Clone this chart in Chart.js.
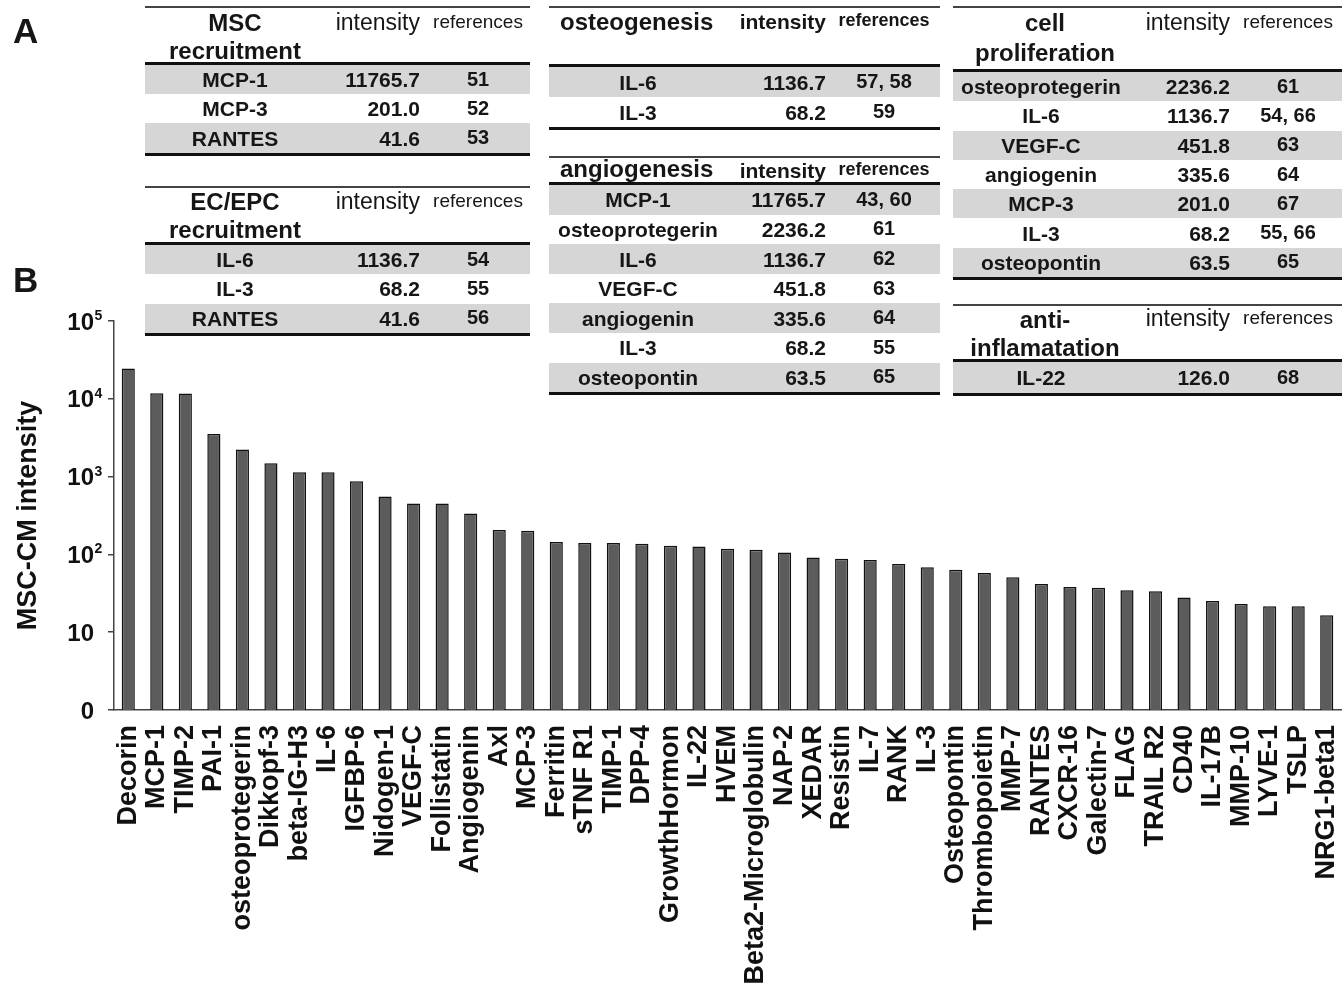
<!DOCTYPE html>
<html>
<head>
<meta charset="utf-8">
<script src="https://cdn.jsdelivr.net/npm/chart.js@4.4.1/dist/chart.umd.min.js"></script>
<style>
  body { margin: 0; background: #fff; font-family: "Liberation Sans", Arial, sans-serif; color: #161616; }
  #wrap { position: relative; width: 1342px; height: 990px; overflow: hidden; }
  #myChart { position: absolute; left: 0; top: 0; }
  .lbl { position: absolute; font-weight: bold; font-size: 35px; line-height: 35px; }
  .t { position: absolute; white-space: nowrap; }
  .bar { position: absolute; }
</style>
</head>
<body>
<div id="wrap">
  <canvas id="myChart" width="1342" height="990"></canvas>
  <div class="lbl" style="left:13px;top:13px">A</div>
  <div class="lbl" style="left:13px;top:262px">B</div>
</div>
<script>
// part B : 막대 그래프 값
const proteins = ['Decorin', 'MCP-1', 'TIMP-2', 'PAI-1', 'osteoprotegerin', 'Dikkopf-3', 'beta-IG-H3',
  'IL-6', 'IGFBP-6', 'Nidogen-1', 'VEGF-C', 'Follistatin', 'Angiogenin', 'Axl', 'MCP-3', 'Ferritin',
  'sTNF R1', 'TIMP-1', 'DPP-4', 'GrowthHormon', 'IL-22', 'HVEM', 'Beta2-Microglobulin', 'NAP-2',
  'XEDAR', 'Resistin', 'IL-7', 'RANK', 'IL-3', 'Osteopontin', 'Thrombopoietin', 'MMP-7', 'RANTES',
  'CXCR-16', 'Galectin-7', 'FLAG', 'TRAIL R2', 'CD40', 'IL-17B', 'MMP-10', 'LYVE-1', 'TSLP', 'NRG1-beta1'];
const intensities = [24500, 11765.7, 11700, 3530, 2236.2, 1480, 1140,
  1136.7, 870, 555, 451.8, 450, 335.6, 206, 201.0, 144,
  140, 140, 137, 129, 126.0, 118, 115, 106,
  91, 88, 85, 75, 68.2, 63.5, 57.6, 51, 41.6,
  38, 37.4, 34.5, 33.6, 28, 25.2, 23, 21.5, 21.5, 16.5];

// y축 눈금
const yTicks = [1, 10, 100, 1000, 10000, 100000];
const yTickBase = ['0', '10', '10', '10', '10', '10'];
const yTickExp = ['', '', '2', '3', '4', '5'];

// part A : 표
const mscRows = [['MCP-1', '11765.7', '51'], ['MCP-3', '201.0', '52'], ['RANTES', '41.6', '53']];
const ecRows = [['IL-6', '1136.7', '54'], ['IL-3', '68.2', '55'], ['RANTES', '41.6', '56']];
const osteoRows = [['IL-6', '1136.7', '57, 58'], ['IL-3', '68.2', '59']];
const angioRows = [['MCP-1', '11765.7', '43, 60'], ['osteoprotegerin', '2236.2', '61'], ['IL-6', '1136.7', '62'],
  ['VEGF-C', '451.8', '63'], ['angiogenin', '335.6', '64'], ['IL-3', '68.2', '55'], ['osteopontin', '63.5', '65']];
const prolifRows = [['osteoprotegerin', '2236.2', '61'], ['IL-6', '1136.7', '54, 66'], ['VEGF-C', '451.8', '63'],
  ['angiogenin', '335.6', '64'], ['MCP-3', '201.0', '67'], ['IL-3', '68.2', '55, 66'], ['osteopontin', '63.5', '65']];
const inflamRows = [['IL-22', '126.0', '68']];

const wrap = document.getElementById('wrap');

function addRect(x, y, w, h, color) {
  const d = document.createElement('div');
  d.className = 'bar';
  d.style.cssText = `left:${x}px;top:${y}px;width:${w}px;height:${h}px;background:${color}`;
  wrap.appendChild(d);
}

function addText(text, x, y, align, size, bold) {
  const d = document.createElement('div');
  d.className = 't';
  const lh = Math.round(size * 1.2);
  let left = x, extra = '';
  if (align === 'center') { left = x - 200; extra = 'width:400px;text-align:center;'; }
  if (align === 'right') { left = x - 400; extra = 'width:400px;text-align:right;'; }
  d.style.cssText = `left:${left}px;top:${y - lh / 2}px;font-size:${size}px;line-height:${lh}px;` +
    `font-weight:${bold ? 'bold' : 'normal'};${extra}`;
  d.textContent = text;
  wrap.appendChild(d);
}

function makeTable(t) {
  addRect(t.x, t.topLine, t.w, 2, '#444');
  t.title.forEach((s, i) => addText(s, t.titleX, t.titleYs[i], t.titleAlign || 'center', 24, true));
  addText('intensity', t.intR, t.hdrY, 'right', t.hdrBold ? 21 : 23, t.hdrBold);
  addText('references', t.refX, t.hdrY - 1, 'center', t.hdrBold ? 18 : 19, t.hdrBold);
  addRect(t.x, t.thick, t.w, 3, '#111');
  t.rows.forEach((r, i) => {
    const top = t.rowTop + i * t.rowH;
    if (i % 2 === 0) addRect(t.x, top, t.w, t.rowH, '#d6d6d6');
    const cy = top + t.rowH / 2;
    addText(r[0], t.nameX, cy, 'center', 21, true);
    addText(r[1], t.intR, cy, 'right', 21, true);
    addText(r[2], t.refX, cy - 1, 'center', 20, true);
  });
  addRect(t.x, t.rowTop + t.rows.length * t.rowH, t.w, 3, '#111');
}

makeTable({ rows: mscRows, title: ['MSC', 'recruitment'], x: 145, w: 385, topLine: 6, thick: 62, rowTop: 65, rowH: 29.2,
  titleX: 235, titleYs: [22, 50], nameX: 235, intR: 420, refX: 478, hdrY: 22 });
makeTable({ rows: ecRows, title: ['EC/EPC', 'recruitment'], x: 145, w: 385, topLine: 186, thick: 242, rowTop: 245, rowH: 29.3,
  titleX: 235, titleYs: [201, 229], nameX: 235, intR: 420, refX: 478, hdrY: 201 });
makeTable({ rows: osteoRows, title: ['osteogenesis'], x: 549, w: 391, topLine: 6, thick: 64, rowTop: 67, rowH: 30,
  titleX: 560, titleAlign: 'left', titleYs: [21], nameX: 638, intR: 826, refX: 884, hdrY: 21, hdrBold: true });
makeTable({ rows: angioRows, title: ['angiogenesis'], x: 549, w: 391, topLine: 156, thick: 182, rowTop: 185, rowH: 29.6,
  titleX: 560, titleAlign: 'left', titleYs: [168], nameX: 638, intR: 826, refX: 884, hdrY: 170, hdrBold: true });
makeTable({ rows: prolifRows, title: ['cell', 'proliferation'], x: 953, w: 389, topLine: 6, thick: 69, rowTop: 72, rowH: 29.3,
  titleX: 1045, titleYs: [22, 52], nameX: 1041, intR: 1230, refX: 1288, hdrY: 22 });
makeTable({ rows: inflamRows, title: ['anti-', 'inflamatation'], x: 953, w: 389, topLine: 304, thick: 359, rowTop: 362, rowH: 31,
  titleX: 1045, titleYs: [319, 347], nameX: 1041, intR: 1230, refX: 1288, hdrY: 318 });

const FONT = '"Liberation Sans", Arial, sans-serif';

// y축 라벨 (10 + 윗첨자)
const yLabelPlugin = {
  id: 'yLabels',
  afterDraw(chart) {
    const s = chart.scales.y;
    const ctx = chart.ctx;
    ctx.save();
    ctx.fillStyle = '#111';
    ctx.textBaseline = 'alphabetic';
    yTicks.forEach((v, i) => {
      const y = s.getPixelForValue(v);
      ctx.font = 'bold 24px ' + FONT;
      ctx.textAlign = 'right';
      ctx.fillText(yTickBase[i], 94, y + 8.5);
      if (yTickExp[i]) {
        ctx.font = 'bold 14px ' + FONT;
        ctx.textAlign = 'left';
        ctx.fillText(yTickExp[i], 94.5, y - 1);
      }
    });
    ctx.restore();
  }
};

const data = {
  labels: proteins,
  datasets: [{
    data: intensities,
    backgroundColor: '#5c5c5c',
    borderColor: '#111',
    borderWidth: 1.5,
    barPercentage: 0.46,
    categoryPercentage: 1
  }]
};

const config = {
  type: 'bar',
  data: data,
  plugins: [yLabelPlugin],
  options: {
    responsive: false,
    animation: false,
    layout: { padding: { top: 321, right: 1, left: 0, bottom: 0 } },
    plugins: { legend: { display: false }, tooltip: { enabled: false } },
    scales: {
      x: {
        grid: { display: false },
        border: { display: true, color: '#444', width: 1.5 },
        ticks: {
          autoSkip: false, maxRotation: 90, minRotation: 90, padding: 7,
          color: '#111', font: { family: FONT, size: 27, weight: 'bold' }
        },
        afterFit(scale) { scale.height = 280; scale.paddingLeft = 0; scale.paddingRight = 0; }
      },
      y: {
        type: 'logarithmic',
        min: 1,
        max: 100000,
        grid: { drawOnChartArea: false, drawTicks: true, tickLength: 6, color: '#444', lineWidth: 1.5 },
        border: { display: true, color: '#444', width: 1.5 },
        ticks: { display: false },
        afterBuildTicks(scale) { scale.ticks = yTicks.map(v => ({ value: v })); },
        afterFit(scale) { scale.width = 114; },
        title: {
          display: true, text: 'MSC-CM intensity', color: '#111',
          font: { family: FONT, size: 27, weight: 'bold' }, padding: { top: 12, bottom: 0 }
        }
      }
    }
  }
};

const myChart = new Chart(document.getElementById('myChart'), config);
</script>
</body>
</html>
